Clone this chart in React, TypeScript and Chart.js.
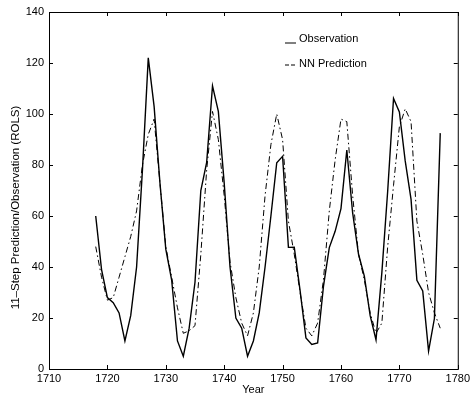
import React, { useEffect, useRef } from "react";
import { Chart, registerables } from "chart.js";

Chart.register(...registerables);

const years: number[] = [
  1718, 1719, 1720, 1721, 1722, 1723, 1724, 1725, 1726, 1727,
  1728, 1729, 1730, 1731, 1732, 1733, 1734, 1735, 1736, 1737,
  1738, 1739, 1740, 1741, 1742, 1743, 1744, 1745, 1746, 1747,
  1748, 1749, 1750, 1751, 1752, 1753, 1754, 1755, 1756, 1757,
  1758, 1759, 1760, 1761, 1762, 1763, 1764, 1765, 1766, 1767,
  1768, 1769, 1770, 1771, 1772, 1773, 1774, 1775, 1776, 1777,
];

const observation: number[] = [
  60, 39, 28, 26, 22, 11, 21, 40, 78, 122,
  103, 73, 47, 35, 11, 5, 16, 34, 70, 81,
  111, 101, 73, 40, 20, 16, 5, 11, 22, 40,
  60, 80.9, 83.4, 47.7, 47.8, 30.7, 12.2, 9.6, 10.2, 32.4,
  47.6, 54, 62.9, 85.9, 61.2, 45.1, 36.4, 20.9, 11.4, 37.8,
  69.8, 106.1, 100.8, 81.6, 66.5, 34.8, 30.6, 7, 19.8, 92.5,
];

const prediction: number[] = [
  48, 36, 27, 28, 36, 44, 52, 62, 80, 92,
  98, 73, 48, 36, 24, 14, 15, 17, 45, 78,
  101, 90, 68, 42, 28, 18, 13, 22, 40, 68,
  88, 100, 90, 58, 45, 30, 16, 13, 18, 35,
  62, 82, 98, 97, 68, 45, 35, 22, 14, 18,
  48, 72, 95, 102, 97, 58, 45, 30, 22, 16,
];

const xTicks: number[] = [1710, 1720, 1730, 1740, 1750, 1760, 1770, 1780];
const yTicks: number[] = [0, 20, 40, 60, 80, 100, 120, 140];

const legendLabels: string[] = ["Observation", "NN Prediction"];
const yTitle = "11–Step Prediction/Observation (ROLS)";

const FONT = "'Liberation Sans', Arial, Helvetica, sans-serif";

const framePlugin = {
  id: "frame",
  afterDraw(chart: any) {
    const { ctx, chartArea } = chart;
    const { left, right, top, bottom } = chartArea;
    const xs = chart.scales.x;
    const ys = chart.scales.y;
    ctx.save();
    ctx.strokeStyle = "#000";
    ctx.lineWidth = 1;
    ctx.strokeRect(left + 0.5, top + 0.5, right - left, bottom - top);
    const tl = 4;
    ctx.beginPath();
    for (const v of xTicks) {
      const px = Math.round(xs.getPixelForValue(v)) + 0.5;
      ctx.moveTo(px, bottom);
      ctx.lineTo(px, bottom - tl);
      ctx.moveTo(px, top);
      ctx.lineTo(px, top + tl);
    }
    for (const v of yTicks) {
      const py = Math.round(ys.getPixelForValue(v)) + 0.5;
      ctx.moveTo(left, py);
      ctx.lineTo(left + tl, py);
      ctx.moveTo(right, py);
      ctx.lineTo(right - tl, py);
    }
    ctx.stroke();

    // y axis title
    ctx.fillStyle = "#000";
    ctx.save();
    ctx.translate(left - 33, (top + bottom) / 2 + 17);
    ctx.rotate(-Math.PI / 2);
    ctx.font = `11.5px ${FONT}`;
    ctx.textAlign = "center";
    ctx.textBaseline = "middle";
    ctx.fillText(yTitle, 0, 0);
    ctx.restore();

    // legend
    const lx = left + 236;
    const ly1 = top + 27;
    const ly2 = top + 52;
    ctx.font = `11px ${FONT}`;
    ctx.textBaseline = "middle";
    ctx.textAlign = "left";
    ctx.beginPath();
    ctx.lineWidth = 1;
    ctx.moveTo(lx, ly1 + 4);
    ctx.lineTo(lx + 11, ly1 + 4);
    ctx.stroke();
    ctx.fillText(legendLabels[0], lx + 14, ly1);
    ctx.beginPath();
    ctx.setLineDash([4, 2]);
    ctx.moveTo(lx, ly2 + 1);
    ctx.lineTo(lx + 11, ly2 + 1);
    ctx.stroke();
    ctx.setLineDash([]);
    ctx.fillText(legendLabels[1], lx + 14, ly2);
    ctx.restore();
  },
};

export default function App() {
  const canvasRef = useRef<HTMLCanvasElement | null>(null);

  useEffect(() => {
    if (!canvasRef.current) return;
    const chart = new Chart(canvasRef.current, {
      type: "line",
      data: {
        datasets: [
          {
            label: legendLabels[0],
            data: years.map((y, i) => ({ x: y, y: observation[i] })),
            borderColor: "#000",
            borderWidth: 1.4,
            pointRadius: 0,
            fill: false,
            tension: 0,
          },
          {
            label: legendLabels[1],
            data: years.map((y, i) => ({ x: y, y: prediction[i] })),
            borderColor: "#000",
            borderWidth: 1,
            borderDash: [6, 3, 1.5, 3],
            pointRadius: 0,
            fill: false,
            tension: 0,
          },
        ],
      },
      options: {
        animation: false,
        responsive: false,
        maintainAspectRatio: false,
        layout: { padding: { left: 0, right: 13, top: 12, bottom: 0 } },
        plugins: {
          legend: { display: false },
          tooltip: { enabled: false },
        },
        scales: {
          x: {
            type: "linear",
            min: 1710,
            max: 1780,
            afterBuildTicks: (scale: any) => {
              scale.ticks = xTicks.map((v) => ({ value: v }));
            },
            afterFit: (scale: any) => {
              scale.height = 28;
            },
            ticks: {
              color: "#000",
              font: { family: FONT, size: 11 },
              padding: 3,
              maxRotation: 0,
              autoSkip: false,
              callback: (v: any) => String(v),
            },
            grid: { display: false, drawTicks: false },
            border: { display: false },
            title: {
              display: true,
              text: "Year",
              color: "#000",
              font: { family: FONT, size: 11 },
              padding: { top: 0, bottom: 0 },
            },
          },
          y: {
            type: "linear",
            min: 0,
            max: 140,
            afterBuildTicks: (scale: any) => {
              scale.ticks = yTicks.map((v) => ({ value: v }));
            },
            afterFit: (scale: any) => {
              scale.width = 49;
            },
            ticks: {
              color: "#000",
              font: { family: FONT, size: 11 },
              padding: 5,
              autoSkip: false,
              callback: (v: any) => String(v),
            },
            grid: { display: false, drawTicks: false },
            border: { display: false },
            title: { display: false },
          },
        },
      },
      plugins: [framePlugin],
    });
    return () => chart.destroy();
  }, []);

  return (
    <div style={{ position: "fixed", left: 0, top: 0, width: 473, height: 397, background: "#fff" }}>
      <canvas ref={canvasRef} width={473} height={397} style={{ width: 473, height: 397 }} />
    </div>
  );
}
